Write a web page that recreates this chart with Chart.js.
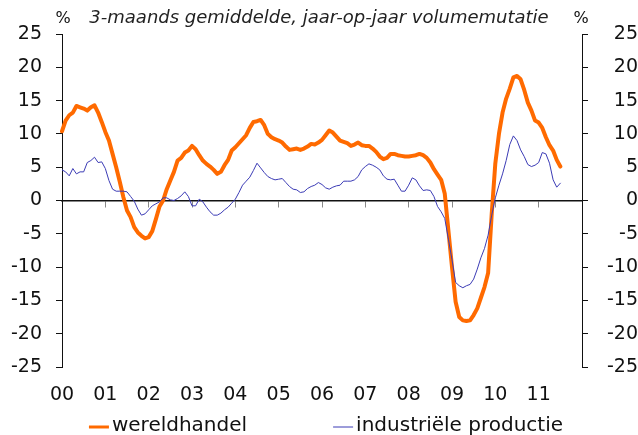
<!DOCTYPE html>
<html>
<head>
<meta charset="utf-8">
<script src="https://cdn.jsdelivr.net/npm/chart.js@4.4.1/dist/chart.umd.min.js"></script>
<style>
  html, body { margin: 0; padding: 0; background: #fff; }
  canvas { display: block; }
</style>
</head>
<body>
<canvas id="handel-chart" width="638" height="435"></canvas>
<script>
//
// Wereldhandel en industriële productie
//

// Years on the x axis
var years = ['00', '01', '02', '03', '04', '05', '06', '07', '08', '09', '10', '11'];

// Monthly categories, Jan 2000 up to and including Jan 2012
var months = [];
years.forEach(function(y) {
	for (var m = 1; m <= 12; m++) {
		months.push(y + '-' + m);
	}
});
months.push('12-1');

// 3-maands gemiddelde, jaar-op-jaar volumemutatie (%), Jan 2000 - Jul 2011
var wereldhandel = [
	10.4, 12.0, 12.8, 13.2, 14.2, 14.0, 13.8, 13.5, 14.0, 14.3, 13.2, 11.8,
	10.3, 9.0, 7.0, 5.0, 2.8, 0.5, -1.5, -2.5, -4.0, -4.8, -5.3, -5.7,
	-5.5, -4.6, -2.8, -0.9, 0.0, 1.7, 3.0, 4.3, 6.0, 6.4, 7.2, 7.5,
	8.2, 7.7, 6.8, 6.0, 5.5, 5.1, 4.6, 4.0, 4.3, 5.3, 6.1, 7.5,
	8.0, 8.6, 9.2, 9.8, 10.9, 11.8, 11.9, 12.1, 11.3, 10.0, 9.5, 9.2,
	9.0, 8.7, 8.1, 7.6, 7.7, 7.8, 7.6, 7.8, 8.1, 8.5, 8.4, 8.7,
	9.1, 9.8, 10.5, 10.2, 9.6, 9.0, 8.8, 8.6, 8.2, 8.4, 8.7, 8.3,
	8.2, 8.2, 7.8, 7.3, 6.6, 6.2, 6.4, 7.0, 7.0, 6.8, 6.7, 6.6,
	6.6, 6.7, 6.8, 7.0, 6.8, 6.4, 5.7, 4.7, 3.9, 3.1, 1.0, -4.5,
	-10.0, -15.2, -17.5, -18.0, -18.1, -18.0, -17.2, -16.2, -14.6, -13.0, -10.9, -2.0,
	5.6, 10.0, 13.2, 15.3, 16.8, 18.5, 18.7, 18.2, 16.6, 14.7, 13.5, 12.0,
	11.7, 10.9, 9.5, 8.3, 7.5, 6.1, 5.1
];

var industrieleProductie = [
	4.6, 4.3, 3.7, 4.8, 4.0, 4.3, 4.3, 5.7, 6.0, 6.5, 5.7, 5.8,
	4.8, 3.0, 1.7, 1.4, 1.4, 1.4, 1.3, 0.6, -0.1, -1.3, -2.2, -2.0,
	-1.4, -0.8, -0.5, -0.2, 0.4, 0.4, 0.1, 0.0, 0.3, 0.7, 1.3, 0.6,
	-0.8, -0.8, 0.2, -0.2, -1.0, -1.7, -2.2, -2.2, -1.9, -1.4, -1.0, -0.4,
	0.2, 1.2, 2.3, 2.9, 3.5, 4.5, 5.6, 4.9, 4.2, 3.6, 3.3, 3.1,
	3.2, 3.3, 2.7, 2.1, 1.7, 1.6, 1.2, 1.3, 1.8, 2.1, 2.3, 2.7,
	2.4, 1.9, 1.7, 2.0, 2.2, 2.3, 2.9, 2.9, 2.9, 3.1, 3.6, 4.6,
	5.1, 5.5, 5.3, 5.0, 4.6, 3.7, 3.2, 3.1, 3.2, 2.3, 1.4, 1.4,
	2.3, 3.4, 3.1, 2.2, 1.5, 1.6, 1.5, 0.6, -0.9, -1.7, -2.7, -5.8,
	-8.9, -12.3, -12.8, -13.1, -12.8, -12.6, -11.8, -10.3, -8.6, -7.2, -5.2, -2.2,
	0.4, 2.3, 4.0, 6.0, 8.4, 9.7, 9.0, 7.6, 6.6, 5.4, 5.1, 5.3,
	5.7, 7.2, 7.0, 5.6, 3.1, 2.0, 2.6
];

var tickFont = { family: '"DejaVu Sans", Verdana, sans-serif', size: 19 };

// "%" above both axes and the legend below the chart
var extraText = {
	id: 'extraText',
	afterDraw: function(chart) {
		var ctx = chart.ctx;
		var area = chart.chartArea;

		ctx.save();
		ctx.fillStyle = '#111';
		ctx.textBaseline = 'middle';
		ctx.textAlign = 'center';
		ctx.font = '16px "DejaVu Sans"';
		ctx.fillText('%', area.left + 1, 19);
		ctx.fillText('%', area.right - 1, 19);

		// Legend
		ctx.font = '20px "DejaVu Sans"';
		ctx.textAlign = 'left';
		var items = chart.data.datasets.map(function(ds) {
			return { ds: ds, w: 23 + ctx.measureText(ds.label).width };
		});
		var gap = 86;
		var total = items[0].w + gap + items[1].w;
		var x = (area.left + area.right) / 2 + 4 - total / 2;
		var y = chart.height - 9;
		items.forEach(function(it) {
			ctx.strokeStyle = it.ds.borderColor;
			ctx.lineWidth = Math.min(it.ds.borderWidth, 3);
			ctx.beginPath();
			ctx.moveTo(x, y + 1);
			ctx.lineTo(x + 20, y + 1);
			ctx.stroke();
			ctx.fillText(it.ds.label, x + 23, y);
			x += it.w + gap;
		});
		ctx.restore();
	}
};

var chart = new Chart(document.getElementById('handel-chart'), {
	type: 'line',
	data: {
		labels: months,
		datasets: [{
			label: 'wereldhandel',
			data: wereldhandel,
			borderColor: '#ff6a00',
			borderWidth: 4,
			order: 1
		}, {
			label: 'industriële productie',
			data: industrieleProductie,
			borderColor: '#3b3bb5',
			borderWidth: 1,
			order: 0
		}]
	},
	options: {
		responsive: false,
		animation: false,
		layout: { padding: { bottom: 28 } },
		elements: {
			point: { radius: 0 },
			line: { tension: 0, borderJoinStyle: 'round', borderCapStyle: 'round' }
		},
		plugins: {
			legend: { display: false },
			tooltip: { enabled: false },
			title: {
				display: true,
				text: '3-maands gemiddelde, jaar-op-jaar volumemutatie',
				color: '#222',
				font: { family: '"DejaVu Sans", Verdana, sans-serif', size: 18, style: 'italic', weight: 'normal' },
				padding: { top: 8, bottom: 4.4 }
			}
		},
		scales: {
			x: {
				type: 'category',
				afterFit: function(scale) { scale.height = 40; },
				grid: { display: false, drawTicks: false },
				border: { display: false },
				ticks: {
					autoSkip: false,
					maxRotation: 0,
					padding: 17,
					color: '#111',
					font: tickFont,
					callback: function(value, index) {
						return index % 12 === 0 ? years[index / 12] : null;
					}
				}
			},
			x2: {
				type: 'category',
				position: { y: 0 },
				grid: {
					drawOnChartArea: false,
					tickLength: 6,
					tickColor: function(ctx) {
						return (ctx.index % 12 === 0 && ctx.index > 0 && ctx.index < 144) ? '#888' : 'rgba(0,0,0,0)';
					}
				},
				border: { color: '#111', width: 1.5 },
				ticks: { display: false }
			},
			y: {
				min: -25,
				max: 25,
				position: 'left',
				afterFit: function(scale) { scale.width = 62; },
				grid: { drawOnChartArea: false, tickLength: 6, tickColor: '#111' },
				border: { color: '#111', width: 1 },
				ticks: { stepSize: 5, padding: 14, color: '#111', font: tickFont }
			},
			y2: {
				min: -25,
				max: 25,
				position: 'right',
				afterFit: function(scale) { scale.width = 56; },
				grid: { drawOnChartArea: false, tickLength: 6, tickColor: '#111' },
				border: { color: '#111', width: 1 },
				ticks: { stepSize: 5, padding: 16, crossAlign: 'far', color: '#111', font: tickFont }
			}
		}
	},
	plugins: [extraText]
});
</script>
</body>
</html>
